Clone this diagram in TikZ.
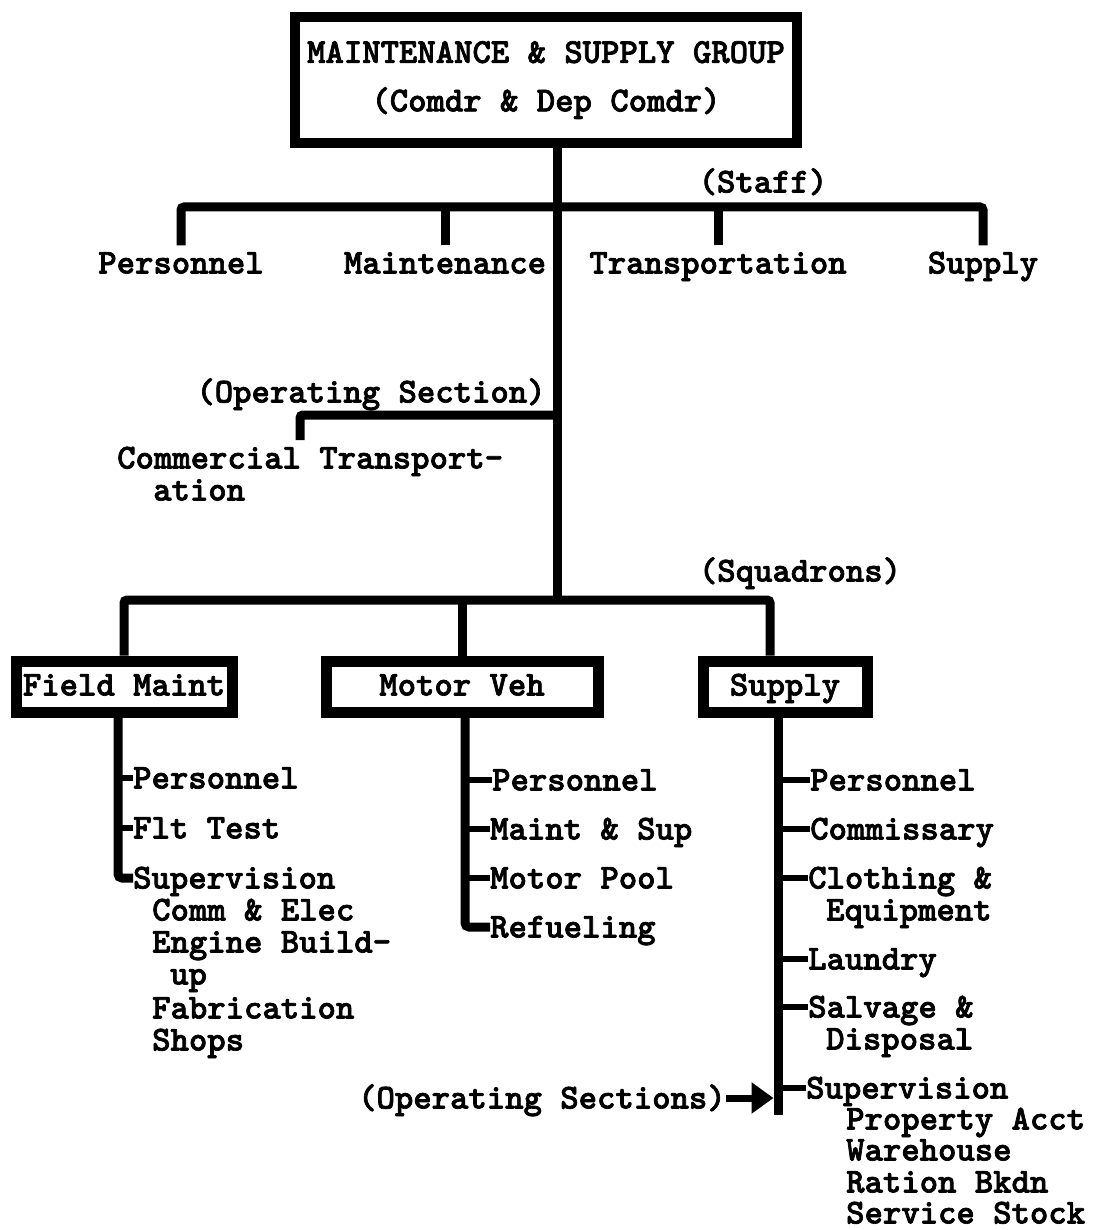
\documentclass[tikz,border=0pt]{standalone}
\usepackage{fontspec}
\usetikzlibrary{arrows.meta}
\newfontfamily\typewriter{lmmonolt10-bold.otf}[FakeBold=2]
\newcommand\chartfont{\typewriter\fontsize{35}{32.5}\selectfont}
\begin{document}
\begin{tikzpicture}[x=1pt,y=-1pt,
  every node/.style={font=\chartfont, inner sep=0pt},
  lbl/.style={anchor=west, text height=21pt, text depth=0pt},
  clbl/.style={anchor=center, text height=21pt, text depth=0pt},
  sqbox/.style={draw, line width=11pt, minimum height=51pt,
                text height=21pt, text depth=3pt},
  bar/.style={line width=9pt},
  stub/.style={line width=6pt},
  pointer/.style={line width=7pt, -{Triangle[length=22pt,width=30pt]}}]
\useasboundingbox (0,0) rectangle (1096,1230);

% --- group headquarters ---
\node[draw, line width=10pt, minimum width=502pt, minimum height=126pt,
      align=center] (grp) at (546,80)
  {MAINTENANCE \& SUPPLY GROUP\\[16pt](Comdr \& Dep Comdr)};

% junction points on the trunk
\coordinate (stf) at (557,207);
\coordinate (ops) at (557,415);
\coordinate (sq)  at (557,600);
\coordinate (sqR) at (770,600);
\coordinate (ctk) at (300,440);

\draw[bar] (grp.south -| sq) -- (sq);

% --- staff ---
\node[clbl] (stafflbl) at (763,182) {(Staff)};
\node[clbl] (st1) at (181,263) {Personnel};
\node[clbl] (st2) at (445,263) {Maintenance};
\node[clbl] (st3) at (718,263) {Transportation};
\node[clbl] (st4) at (983,263) {Supply};
\draw[bar, rounded corners=3pt] ([yshift=7pt]st1.north) |- (stf) -| ([yshift=7pt]st4.north);
\draw[bar] ([yshift=7pt]st2.north) -- (st2.north |- stf);
\draw[bar] ([yshift=7pt]st3.north) -- (st3.north |- stf);

% --- operating section ---
\node[clbl] (opslbl) at (371,392) {(Operating Section)};
\node[lbl] (ct1) at (117,458) {Commercial Transport-};
\node[lbl] (ct2) at (153,490) {ation};
\draw[bar, rounded corners=3pt] (ops) -| (ctk);

% --- squadrons ---
\node[clbl] (sqlbl) at (800,571) {(Squadrons)};
\node[sqbox, minimum width=216pt] (fm) at (124,686.5) {Field Maint};
\node[sqbox, minimum width=272pt] (mv) at (462,686.5) {Motor Veh};
\node[sqbox, minimum width=164pt] (sp) at (785,686.5) {Supply};
\draw[bar, rounded corners=3pt] (fm.north) |- (sqR) -- (sqR |- sp.north);
\draw[bar] (mv.north) -- (mv.north |- sq);

% --- field maintenance sections ---
\coordinate (fmx) at (118,0);
\node[lbl] (fm1) at (133,778) {Personnel};
\node[lbl] (fm2) at (133,828) {Flt Test};
\node[lbl] (fm3) at (133,878) {Supervision};
\node[lbl] (fm3a) at (152,910) {Comm \& Elec};
\node[lbl] (fm3b) at (152,942) {Engine Build-};
\node[lbl] (fm3c) at (170,974) {up};
\node[lbl] (fm3d) at (152,1008) {Fabrication};
\node[lbl] (fm3e) at (152,1040) {Shops};
\draw[bar, rounded corners=4pt] (fm.south -| fmx) |- (fm3.west);
\foreach \n in {fm1,fm2} \draw[stub] (\n.west -| fmx) -- (\n.west);

% --- motor vehicle sections ---
\coordinate (mvx) at (465,0);
\node[lbl] (mv1) at (492,780) {Personnel};
\node[lbl] (mv2) at (490,829) {Maint \& Sup};
\node[lbl] (mv3) at (490,878) {Motor Pool};
\node[lbl] (mv4) at (490,927) {Refueling};
\draw[bar, rounded corners=4pt] (mv.south -| mvx) |- (mv4.west);
\foreach \n in {mv1,mv2,mv3} \draw[stub] (\n.west -| mvx) -- (\n.west);

% --- supply sections ---
\coordinate (spx) at (778,0);
\coordinate (spend) at (778,1115);
\node[lbl] (sp1) at (810,780) {Personnel};
\node[lbl] (sp2) at (810,829) {Commissary};
\node[lbl] (sp3) at (808,878) {Clothing \&};
\node[lbl] (sp3a) at (826,910) {Equipment};
\node[lbl] (sp4) at (808,959) {Laundry};
\node[lbl] (sp5) at (808,1007) {Salvage \&};
\node[lbl] (sp5a) at (826,1039) {Disposal};
\node[lbl] (sp6) at (806,1088) {Supervision};
\node[lbl] (sp6a) at (846,1119) {Property Acct};
\node[lbl] (sp6b) at (846,1150) {Warehouse};
\node[lbl] (sp6c) at (846,1182) {Ration Bkdn};
\node[lbl] (sp6d) at (846,1213) {Service Stock};
\draw[bar] (sp.south -| spx) -- (spend);
\foreach \n in {sp1,sp2,sp3,sp4,sp5,sp6} \draw[stub] (\n.west -| spx) -- (\n.west);

% --- operating sections pointer ---
\node[lbl] (osec) at (358,1098) {(Operating Sections)};
\draw[pointer, shorten >=4.5pt] (osec.east) -- (osec.east -| spx);
\end{tikzpicture}
\end{document}
